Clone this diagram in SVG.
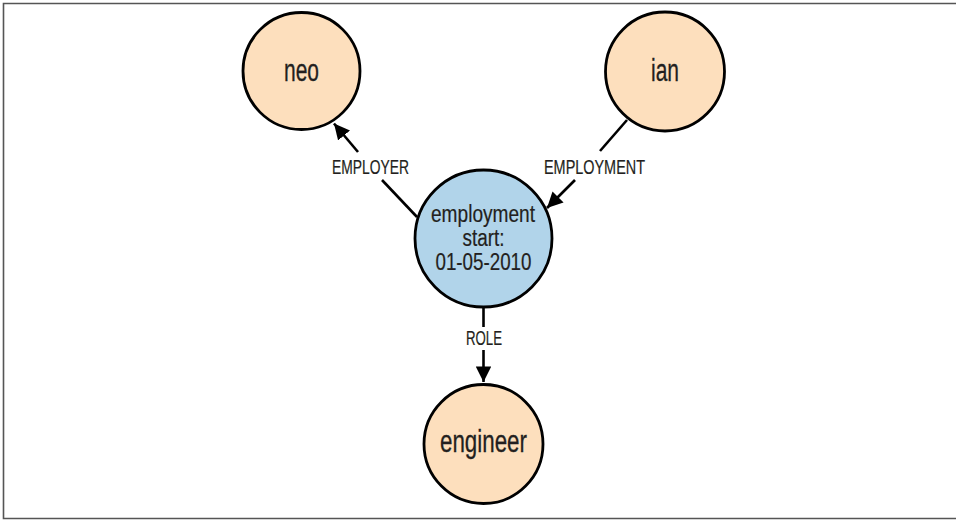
<svg xmlns="http://www.w3.org/2000/svg" width="956" height="520" viewBox="0 0 956 520">
<defs>
<style>
.frame{fill:none;stroke:#555;stroke-width:1.6}
.node circle{stroke:#000;stroke-width:2.8}
.person{fill:#fddfbd}
.emp{fill:#b1d4ea}
.ntext{font-family:"Liberation Sans",Arial,sans-serif;font-size:31px;fill:#231f20;text-anchor:middle;stroke:#231f20;stroke-width:0.3}
.etext{font-family:"Liberation Sans",Arial,sans-serif;font-size:23px;fill:#231f20;text-anchor:middle;stroke:#231f20;stroke-width:0.2}
.edge line{stroke:#000;stroke-width:2.6;fill:none}
.lbl{font-family:"Liberation Sans",Arial,sans-serif;font-size:20px;fill:#231f20;text-anchor:middle;stroke:#231f20;stroke-width:0.2}
</style>
<marker id="arr" viewBox="0 0 10 10" refX="10" refY="5" markerWidth="6" markerHeight="6" markerUnits="strokeWidth" orient="auto">
<path d="M0,0 L10,5 L0,10 z" fill="#000"/>
</marker>
</defs>
<rect x="0" y="0" width="956" height="520" fill="#fff"/>
<path class="frame" d="M956,3.5 H3.5 V518.5 H956"/>
<g id="connectors" class="edge">
<line x1="417" y1="217" x2="382" y2="180"/>
<line x1="358" y1="152" x2="334" y2="123.5" marker-end="url(#arr)"/>
<line x1="627" y1="120" x2="600" y2="151"/>
<line x1="575" y1="180" x2="547" y2="208" marker-end="url(#arr)"/>
<line x1="483.5" y1="307" x2="483.5" y2="327"/>
<line x1="483.5" y1="350" x2="483.5" y2="382" marker-end="url(#arr)"/>
<text class="lbl" x="370.5" y="174" textLength="77" lengthAdjust="spacingAndGlyphs">EMPLOYER</text>
<text class="lbl" x="594.5" y="174" textLength="101" lengthAdjust="spacingAndGlyphs">EMPLOYMENT</text>
<text class="lbl" x="484" y="344.5" textLength="36" lengthAdjust="spacingAndGlyphs">ROLE</text>
</g>
<g id="neo" class="node">
<circle class="person" cx="301.5" cy="71" r="58.5"/>
<text class="ntext" x="301.5" y="81" textLength="35" lengthAdjust="spacingAndGlyphs">neo</text>
</g>
<g id="ian" class="node">
<circle class="person" cx="665" cy="71.5" r="59.5"/>
<text class="ntext" x="665" y="81" textLength="28" lengthAdjust="spacingAndGlyphs">ian</text>
</g>
<g id="employment" class="node">
<circle class="emp" cx="483.5" cy="238.5" r="68.5"/>
<text class="etext" x="483" y="222" textLength="104" lengthAdjust="spacingAndGlyphs">employment</text>
<text class="etext" x="483.5" y="245.5" textLength="42" lengthAdjust="spacingAndGlyphs">start:</text>
<text class="etext" x="483.5" y="269.5" textLength="96" lengthAdjust="spacingAndGlyphs">01-05-2010</text>
</g>
<g id="engineer" class="node">
<circle class="person" cx="483.5" cy="444" r="59.5"/>
<text class="ntext" x="483.5" y="452" textLength="87" lengthAdjust="spacingAndGlyphs">engineer</text>
</g>
</svg>
